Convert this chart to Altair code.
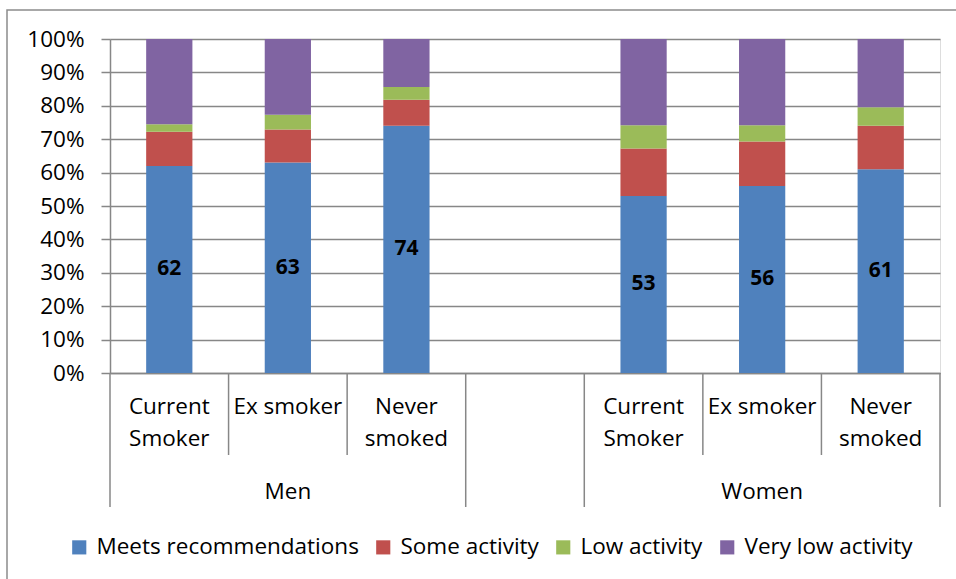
import altair as alt
import pandas as pd

# Category slots along the x axis (one empty slot separates the two groups)
slot_ids = ["M1", "M2", "M3", "gap", "W1", "W2", "W3"]
slot_groups = ["Men", "Men", "Men", "", "Women", "Women", "Women"]
slot_labels = ["Current\nSmoker", "Ex smoker", "Never\nsmoked", "",
               "Current\nSmoker", "Ex smoker", "Never\nsmoked"]

bar_slots = ["M1", "M2", "M3", "W1", "W2", "W3"]
levels = ["Meets recommendations", "Some activity", "Low activity", "Very low activity"]
colors = ["#4F81BD", "#C0504D", "#9BBB59", "#8064A2"]

meets = [62, 63, 74, 53, 56, 61]
some = [10.2, 9.9, 7.8, 14.2, 13.3, 13.0]
low = [2.3, 4.4, 3.8, 7.0, 4.9, 5.6]
very_low = [25.5, 22.7, 14.4, 25.8, 25.8, 20.4]
y_ticks = list(range(0, 101, 10))

rows = []
for i, s in enumerate(bar_slots):
    for k, (lvl, vals) in enumerate(zip(levels, [meets, some, low, very_low])):
        rows.append({"slot": s, "level": lvl, "value": vals[i], "order": k})
df = pd.DataFrame(rows)

labels_df = pd.DataFrame({"slot": bar_slots, "meets": meets})
cat_df = pd.DataFrame({"slot": slot_ids, "label": slot_labels, "group": slot_groups})
group_df = pd.DataFrame({"slot": ["M2", "W2"], "group": ["Men", "Women"]})
inner_df = pd.DataFrame({"slot": ["M2", "M3", "W2", "W3"]})
outer_df = pd.DataFrame({"slot": ["M1", "gap", "W1"]})
last_df = pd.DataFrame({"slot": ["W3"]})

FONT = "Open Sans"
FS = 22.5
GRID = "#878787"
H = 334

xscale = alt.Scale(domain=slot_ids, paddingInner=0, paddingOuter=0)
yscale = alt.Scale(domain=[0, 100], nice=False)
yaxis = alt.Axis(values=y_ticks, tickCount=len(y_ticks) + 5,
                 labelExpr="datum.value + '%'", title=None,
                 labelOverlap=False,
                 grid=True, gridColor=GRID, gridWidth=1.5,
                 domainColor=GRID, domainWidth=1.5,
                 tickColor=GRID, tickWidth=1.5, tickSize=9,
                 labelFont=FONT, labelFontSize=FS, labelColor="#000000",
                 labelPadding=17)
xaxis = alt.Axis(labels=False, ticks=False, title=None,
                 domainColor=GRID, domainWidth=1.5, grid=False)

bars = alt.Chart(df).mark_bar(width=alt.RelativeBandSize(0.39)).encode(
    x=alt.X("slot:N", scale=xscale, axis=xaxis),
    y=alt.Y("value:Q", stack="zero", scale=yscale, axis=yaxis),
    color=alt.Color("level:N", scale=alt.Scale(domain=levels, range=colors),
                    legend=alt.Legend(title=None, orient="none", direction="horizontal",
                                      legendX=-42, legendY=497,
                                      symbolType="square", symbolSize=200,
                                      symbolStrokeWidth=0, labelFont=FONT,
                                      labelFontSize=FS, labelColor="#000000",
                                      labelLimit=0, columnPadding=13, labelOffset=6)),
    order=alt.Order("order:Q"),
)

value_text = alt.Chart(labels_df).transform_calculate(
    mid="datum.meets / 2"
).mark_text(font=FONT, fontSize=21, fontWeight="bold", color="#000000").encode(
    x=alt.X("slot:N", scale=xscale, axis=xaxis),
    y=alt.Y("mid:Q", scale=yscale, axis=yaxis),
    text=alt.Text("meets:Q"),
)

cat_text = alt.Chart(cat_df).mark_text(
    font=FONT, fontSize=FS, color="#000000", baseline="top",
    lineBreak="\n", lineHeight=32,
).encode(
    x=alt.X("slot:N", scale=xscale, axis=xaxis),
    y=alt.value(H + 23),
    text="label:N",
)

group_text = alt.Chart(group_df).mark_text(
    font=FONT, fontSize=FS, color="#000000", baseline="middle",
).encode(
    x=alt.X("slot:N", scale=xscale, axis=xaxis),
    y=alt.value(H + 119),
    text="group:N",
)

inner_rules = alt.Chart(inner_df).mark_rule(color=GRID, strokeWidth=1.5).encode(
    x=alt.X("slot:N", scale=xscale, bandPosition=0, axis=xaxis),
    y=alt.value(H), y2=alt.value(H + 82),
)
outer_rules = alt.Chart(outer_df).mark_rule(color=GRID, strokeWidth=1.5).encode(
    x=alt.X("slot:N", scale=xscale, bandPosition=0, axis=xaxis),
    y=alt.value(H), y2=alt.value(H + 134),
)
last_rule = alt.Chart(last_df).mark_rule(color=GRID, strokeWidth=1.5).encode(
    x=alt.X("slot:N", scale=xscale, bandPosition=1, axis=xaxis),
    y=alt.value(H), y2=alt.value(H + 134),
)

# outer chart frame
frame = alt.Chart(pd.DataFrame({"k": [0]})).mark_rect(
    filled=False, stroke="#8c8c8c", strokeWidth=1.5
).encode(
    x=alt.value(-103), x2=alt.value(870),
    y=alt.value(-29), y2=alt.value(560),
)

chart = alt.layer(
    bars, frame, value_text, cat_text, group_text, inner_rules, outer_rules, last_rule
).properties(
    width=830, height=H,
    padding={"left": 110, "top": 39, "right": 16, "bottom": 206},
    autosize=alt.AutoSizeParams(type="none"),
).configure_view(stroke=None).configure(background="#ffffff")

chart.save("out.html", embed_options={"renderer": "svg", "actions": False})
